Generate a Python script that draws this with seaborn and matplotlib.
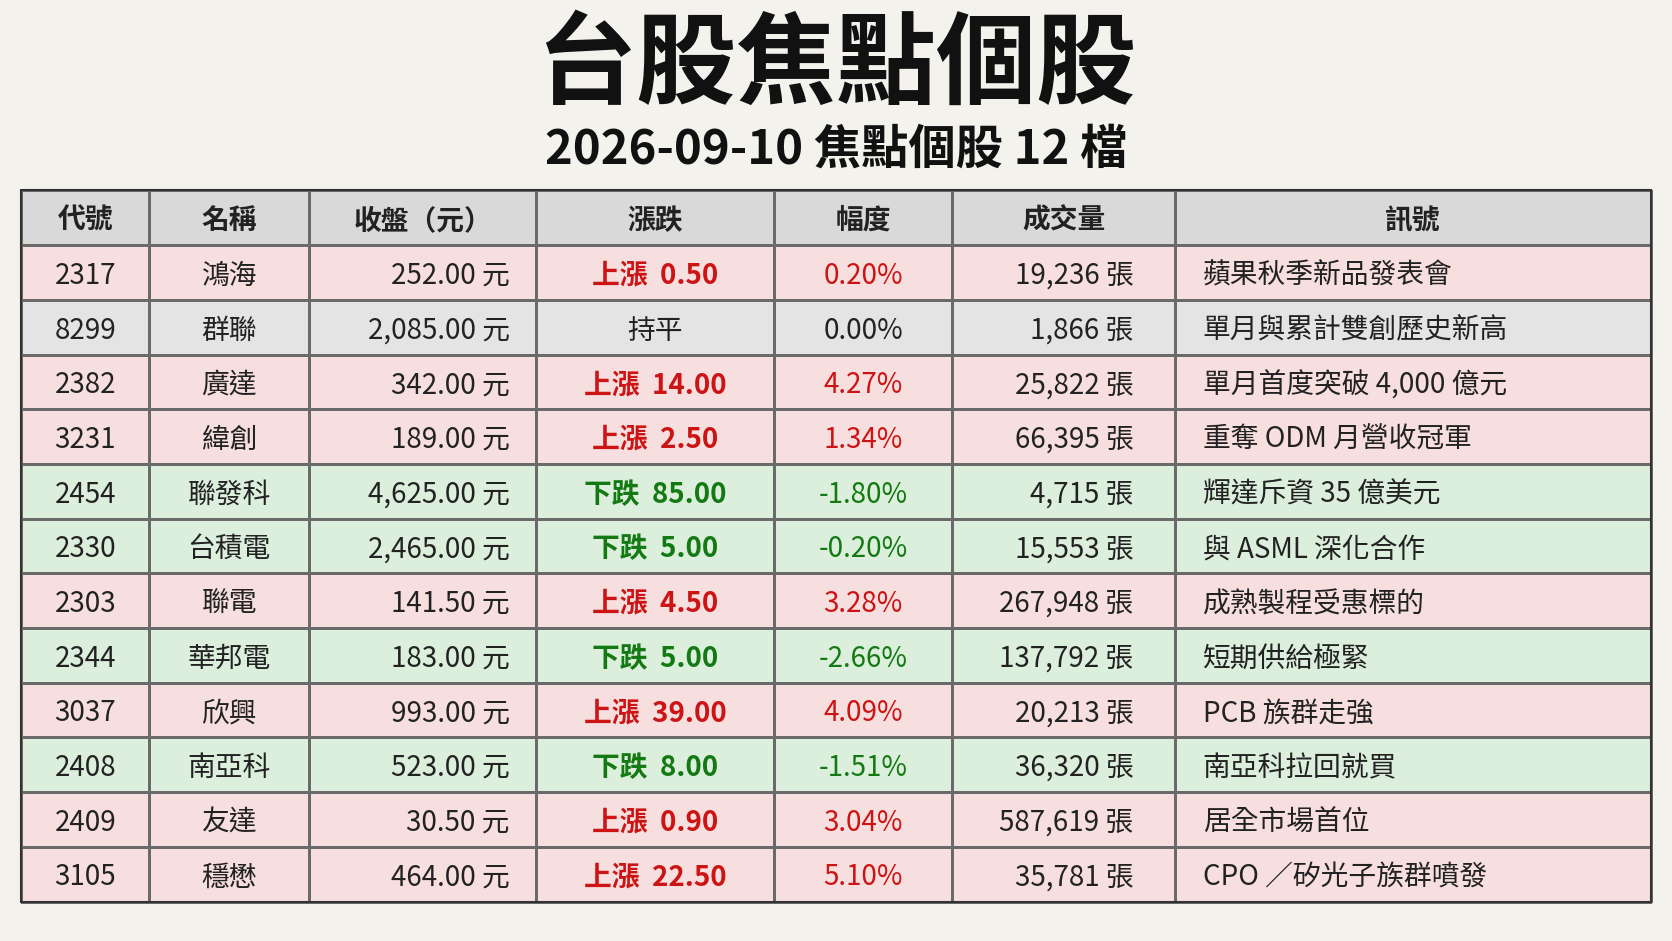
import numpy as np
import matplotlib
matplotlib.use("Agg")
import matplotlib.pyplot as plt
from matplotlib.colors import ListedColormap
import seaborn as sns

headers = ["代號", "名稱", "收盤（元）", "漲跌", "幅度", "成交量", "訊號"]
codes = ["2317", "8299", "2382", "3231", "2454", "2330", "2303", "2344", "3037", "2408", "2409", "3105"]
names = ["鴻海", "群聯", "廣達", "緯創", "聯發科", "台積電", "聯電", "華邦電", "欣興", "南亞科", "友達", "穩懋"]
closes = [252.00, 2085.00, 342.00, 189.00, 4625.00, 2465.00, 141.50, 183.00, 993.00, 523.00, 30.50, 464.00]
changes = [0.50, 0.00, 14.00, 2.50, -85.00, -5.00, 4.50, -5.00, 39.00, -8.00, 0.90, 22.50]
pcts = [0.20, 0.00, 4.27, 1.34, -1.80, -0.20, 3.28, -2.66, 4.09, -1.51, 3.04, 5.10]
volumes = [19236, 1866, 25822, 66395, 4715, 15553, 267948, 137792, 20213, 36320, 587619, 35781]
signals = ["蘋果秋季新品發表會", "單月與累計雙創歷史新高", "單月首度突破 4,000 億元", "重奪 ODM 月營收冠軍",
           "輝達斥資 35 億美元", "與 ASML 深化合作", "成熟製程受惠標的", "短期供給極緊",
           "PCB 族群走強", "南亞科拉回就買", "居全市場首位", "CPO ／矽光子族群噴發"]

sns.set_theme(style="white")
plt.rcParams['font.family'] = ['Noto Sans CJK TC', 'DejaVu Sans']

W, H = 1568, 882
col_edges = np.array([20, 140, 290, 503, 726, 893, 1102, 1548])
top, head_bot, bot = 178, 230, 845
row_edges = np.concatenate([[top], np.linspace(head_bot, bot, 13)])

fig = plt.figure(figsize=(16.72, 9.41), dpi=100)
fig.patch.set_facecolor("#f4f2ed")
ax = fig.add_axes([0, 0, 1, 1])
ax.set_xlim(0, W)
ax.set_ylim(H, 0)
ax.axis("off")

# state per row: 0 header, 1 up, 2 flat, 3 down
state = [0] + [1 if c > 0 else (3 if c < 0 else 2) for c in changes]
grid = np.repeat(np.array(state)[:, None], len(headers), axis=1)
cmap = ListedColormap(["#d9d9d9", "#f8dfdf", "#e4e4e4", "#dcefdc"])
ax.pcolormesh(col_edges, row_edges, grid, cmap=cmap, vmin=-0.5, vmax=3.5,
              edgecolors="#6a6a6a", linewidth=0.8)
ax.plot([col_edges[0], col_edges[-1], col_edges[-1], col_edges[0], col_edges[0]],
        [top, top, bot, bot, top], color="#333333", lw=1.5)

ax.text(W / 2, 62, "台股焦點個股", ha="center", va="center", fontsize=72, fontweight="black", color="#111111")
ax.text(W / 2, 140, "2026-09-10 焦點個股 12 檔", ha="center", va="center", fontsize=34, fontweight="bold", color="#111111")

fs = 20
dy = 3
centers = (col_edges[:-1] + col_edges[1:]) / 2
for j, h in enumerate(headers):
    ax.text(centers[j], (top + head_bot) / 2 + dy, h, ha="center", va="center", fontsize=fs, fontweight="bold", color="#222222")

red, green, black = "#cc1414", "#137a13", "#222222"
for i in range(len(codes)):
    y = (row_edges[i + 1] + row_edges[i + 2]) / 2 + dy
    c = changes[i]
    col = red if c > 0 else (green if c < 0 else black)
    chg = f"上漲  {c:.2f}" if c > 0 else (f"下跌  {-c:.2f}" if c < 0 else "持平")
    kw = dict(va="center", fontsize=fs, fontweight="medium")
    ax.text(centers[0], y, codes[i], ha="center", color=black, **kw)
    ax.text(centers[1], y, names[i], ha="center", color=black, **kw)
    ax.text(478, y, f"{closes[i]:,.2f} 元", ha="right", color=black, **kw)
    ax.text(centers[3], y, chg, ha="center", va="center", fontsize=fs,
            fontweight="bold" if c != 0 else "medium", color=col)
    ax.text(centers[4], y, f"{pcts[i]:.2f}%", ha="center", color=col, **kw)
    ax.text(1063, y, f"{volumes[i]:,} 張", ha="right", color=black, **kw)
    ax.text(1128, y, signals[i], ha="left", color=black, **kw)

fig.savefig("out.png", dpi=100, facecolor=fig.get_facecolor())
